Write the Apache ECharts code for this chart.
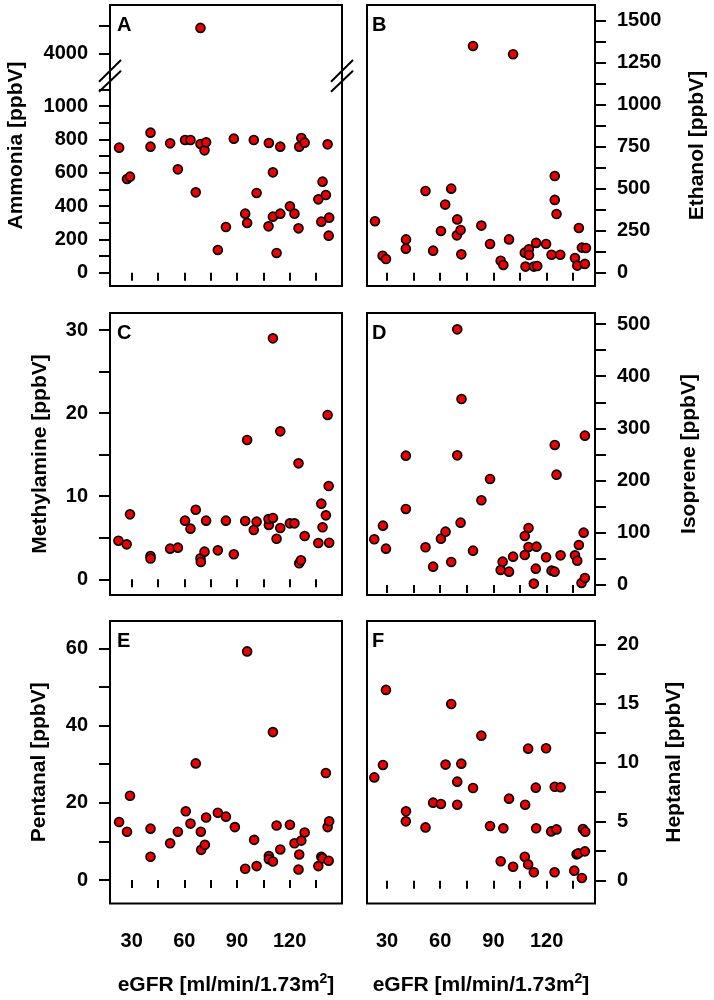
<!DOCTYPE html>
<html><head><meta charset="utf-8">
<script src="https://cdn.jsdelivr.net/npm/echarts@6/dist/echarts.min.js"></script>
<style>html,body{margin:0;padding:0;background:#fff}#c{width:714px;height:1000px}</style>
</head><body><div id="c"></div><script>
// ---- data: [eGFR, concentration] ----
const ammonia = [[22.8,750],[27.3,562],[29.0,576],[40.7,840],[40.7,756],[51.9,776],[56.3,620],[60.4,796],[63.5,796],[66.5,482],[69.2,4930],[69.2,772],[71.5,734],[72.4,782],[79.1,136],[83.7,274],[88.2,804],[94.7,354],[95.8,298],[99.6,796],[101.2,478],[108.2,778],[108.0,278],[110.5,602],[110.5,336],[112.6,118],[114.7,756],[114.7,354],[120.2,398],[122.8,354],[125.1,266],[125.5,756],[126.7,808],[128.6,780],[136.4,440],[138.1,306],[138.8,546],[140.7,466],[141.7,770],[142.6,330],[142.3,222]];
const ethanol = [[23.2,306],[27.5,101],[29.4,81],[40.6,143],[40.7,198],[51.7,486],[56.0,131],[60.4,248],[62.8,405],[66.2,500],[69.6,317],[69.4,222],[71.5,254],[71.9,109],[78.5,1349],[83.2,280],[88.1,171],[94.1,71],[95.6,46],[98.8,198],[101.1,1300],[107.7,119],[108.1,36],[110.0,139],[110.1,105],[112.8,36],[114.7,40],[114.1,177],[119.7,171],[122.8,107],[124.6,575],[124.6,433],[125.6,349],[127.7,107],[136.0,87],[137.3,42],[138.2,266],[139.9,149],[141.6,52],[142.2,147]];
const methylamine = [[22.4,4.65],[27.1,4.21],[29.0,7.82],[40.7,2.8],[40.7,2.5],[51.9,3.69],[56.3,3.81],[60.4,7.06],[63.5,6.10],[66.5,8.38],[69.2,2.53],[69.4,2.09],[71.5,3.33],[72.4,7.06],[79.1,3.49],[83.7,7.06],[88.2,3.01],[94.7,7.02],[95.8,16.77],[99.6,5.94],[101.2,6.94],[108.2,6.54],[108.0,7.26],[110.5,7.38],[110.5,29.0],[112.6,4.89],[114.7,6.18],[114.7,17.81],[120.2,6.74],[122.8,6.74],[125.1,13.96],[125.5,1.93],[126.5,2.29],[128.6,5.21],[136.4,4.37],[138.1,9.11],[138.8,6.26],[140.7,7.70],[141.7,19.78],[142.6,4.41],[142.3,11.23]];
const isoprene = [[22.8,87.5],[27.7,113.7],[29.4,69.6],[40.6,247.8],[40.6,145.6],[51.7,72.2],[56.0,35.1],[60.4,88.8],[63.0,102.2],[66.2,44.1],[69.6,489.8],[69.6,248.4],[72.0,356.3],[71.5,119.4],[78.5,65.8],[83.2,162.2],[88.1,203.1],[94.1,28.7],[95.2,44.7],[98.8,25.5],[101.1,54.3],[107.7,57.5],[107.7,93.9],[109.8,109.2],[109.8,72.8],[112.8,2.6],[113.9,31.3],[114.3,73.4],[119.7,53.0],[122.8,27.5],[124.5,25.5],[124.6,268.2],[125.6,211.4],[127.9,56.8],[136.0,56.8],[137.3,46.6],[138.2,76.6],[139.7,3.8],[140.9,100.3],[141.6,13.4],[141.6,286.1]];
const pentanal = [[22.8,15.0],[27.3,12.5],[29.0,21.8],[40.7,13.3],[40.7,6.0],[51.9,9.5],[56.3,12.5],[60.8,17.8],[63.5,14.6],[66.5,30.2],[69.4,12.5],[69.6,7.8],[71.7,9.1],[72.4,16.2],[79.1,17.4],[83.7,16.4],[88.8,13.7],[94.7,2.9],[95.8,59.2],[99.8,10.4],[101.2,3.6],[108.2,6.2],[108.2,5.4],[110.5,4.8],[110.5,38.3],[112.6,14.1],[114.7,7.9],[120.2,14.3],[122.8,9.5],[125.1,2.7],[125.5,6.6],[126.7,10.2],[128.6,12.3],[136.4,3.6],[138.1,6.0],[138.8,5.6],[140.7,27.7],[141.7,13.7],[142.6,15.2],[142.3,5.0]];
const heptanal = [[22.8,8.74],[27.7,9.79],[29.4,16.14],[40.6,5.02],[40.7,5.87],[51.7,4.51],[56.0,6.60],[60.4,6.49],[63.0,9.82],[66.2,14.95],[69.6,8.38],[69.6,6.43],[71.9,9.90],[78.5,7.84],[83.2,12.27],[88.1,4.63],[94.1,1.64],[95.6,4.43],[98.8,6.94],[101.1,1.18],[107.7,2.03],[107.9,6.43],[109.6,1.38],[109.6,11.17],[112.8,0.71],[113.9,7.87],[114.1,4.43],[119.7,11.20],[122.6,4.17],[124.5,0.71],[124.6,7.95],[125.6,4.34],[127.9,7.90],[135.6,0.85],[136.9,2.23],[137.9,2.31],[139.9,0.23],[140.5,4.37],[141.6,2.48],[141.8,4.15]];

// ---- tick values ----
const xTicks = [30,45,60,75,90,105,120,135];
const xTickLabels = [30,60,90,120];
const ammoniaTicksLow = [0,100,200,300,400,500,600,700,800,900,1000,1100];
const ammoniaLabelsLow = [0,200,400,600,800,1000];
const ammoniaTicksHigh = [4000,5000];
const ammoniaLabelsHigh = [4000];
const ethanolTicks = [0,125,250,375,500,625,750,875,1000,1125,1250,1375,1500];
const ethanolLabels = [0,250,500,750,1000,1250,1500];
const methylTicks = [0,5,10,15,20,25,30];
const methylLabels = [0,10,20,30];
const isopreneTicks = [0,50,100,150,200,250,300,350,400,450,500];
const isopreneLabels = [0,100,200,300,400,500];
const pentanalTicks = [0,10,20,30,40,50,60];
const pentanalLabels = [0,20,40,60];
const heptanalTicks = [0,2.5,5,7.5,10,12.5,15,17.5,20];
const heptanalLabels = [0,5,10,15,20];

const FONT = 'Liberation Sans';
const cols = [{left:110,width:232,xmin:17.6,xmax:149.9},{left:367,width:228,xmin:18.7,xmax:147.3}];
const rows = [{top:5,height:281},{top:313,height:282},{top:621,height:282.5}];

const panels = [
  {letter:'A',title:'Ammonia [ppbV]',data:ammonia.filter(d=>d[1]<2000),ticks:ammoniaTicksLow,labels:ammoniaLabelsLow,col:0,row:0,ymin:-80,ymax:1606,gap:83},
  {letter:'B',title:'Ethanol [ppbV]',data:ethanol,ticks:ethanolTicks,labels:ethanolLabels,col:1,row:0,ymin:-79.4,ymax:1593,gap:92},
  {letter:'C',title:'Methylamine [ppbV]',data:methylamine,ticks:methylTicks,labels:methylLabels,col:0,row:1,ymin:-1.885,ymax:32.05,gap:59},
  {letter:'D',title:'Isoprene [ppbV]',data:isoprene,ticks:isopreneTicks,labels:isopreneLabels,col:1,row:1,ymin:-19.2,ymax:521.1,gap:84},
  {letter:'E',title:'Pentanal [ppbV]',data:pentanal,ticks:pentanalTicks,labels:pentanalLabels,col:0,row:2,ymin:-6.09,ymax:67.08,gap:60},
  {letter:'F',title:'Heptanal [ppbV]',data:heptanal,ticks:heptanalTicks,labels:heptanalLabels,col:1,row:2,ymin:-1.93,ymax:21.97,gap:69}
];

const txt = {fontFamily:FONT,fontWeight:'bold',fontSize:20,color:'#000'};
const ttl = {fontFamily:FONT,fontWeight:'bold',fontSize:21,color:'#000'};
const fmt = v => String(v);
const grid=[], xAxis=[], yAxis=[], series=[], graphic=[];
const marker = {type:'scatter',symbol:'circle',symbolSize:9,itemStyle:{color:'#ee0000',borderColor:'#000',borderWidth:1.6,opacity:1},silent:true};

panels.forEach((p,i)=>{
  const c=cols[p.col], r=rows[p.row];
  grid.push({left:c.left,top:r.top,width:c.width,height:r.height,show:true,borderColor:'#000',borderWidth:2,backgroundColor:'transparent'});
  const bottom = p.row===2;
  xAxis.push({gridIndex:i,type:'value',min:c.xmin,max:c.xmax,offset:3,
    axisLine:{show:false},splitLine:{show:false},
    axisTick:{show:true,length:8,lineStyle:{color:'#000',width:2},customValues:xTicks},
    axisLabel:{show:bottom,customValues:xTickLabels,margin:25,formatter:fmt,...txt},
    name:bottom?'eGFR [ml/min/1.73m{sup|2}]':'',nameLocation:'middle',nameGap:66,
    nameTextStyle:{...ttl,lineHeight:26,rich:{sup:{fontFamily:FONT,fontWeight:'bold',fontSize:14,color:'#000',verticalAlign:'top',lineHeight:12}}}});
  yAxis.push({gridIndex:i,type:'value',position:p.col===0?'left':'right',min:p.ymin,max:p.ymax,
    axisLine:{show:false},splitLine:{show:false},
    axisTick:{show:true,length:11,lineStyle:{color:'#000',width:2},customValues:p.ticks},
    axisLabel:{customValues:p.labels,margin:22,formatter:fmt,...txt},
    name:p.title,nameLocation:'middle',nameRotate:90,nameGap:p.gap,nameTextStyle:{...ttl}});
  series.push({...marker,xAxisIndex:i,yAxisIndex:i,data:p.data});
  graphic.push({type:'text',x:(p.col===0?117:372),y:r.top+20,style:{text:p.letter,font:'bold 20px '+FONT,fill:'#000',textVerticalAlign:'middle'}});
});

// upper (broken) segment of panel A
const gi = grid.length;
grid.push({left:110,top:5,width:232,height:73,show:false});
xAxis.push({gridIndex:gi,type:'value',min:cols[0].xmin,max:cols[0].xmax,show:false});
yAxis.push({gridIndex:gi,type:'value',position:'left',min:3095,max:5769,
  axisLine:{show:false},splitLine:{show:false},
  axisTick:{show:true,length:11,lineStyle:{color:'#000',width:2},customValues:ammoniaTicksHigh},
  axisLabel:{customValues:ammoniaLabelsHigh,margin:22,formatter:fmt,...txt}});
series.push({...marker,xAxisIndex:gi,yAxisIndex:gi,data:ammonia.filter(d=>d[1]>=2000)});

// axis break marks
[110,342].forEach(x=>{
  graphic.push({type:'line',shape:{x1:x-11,y1:81.7,x2:x+11,y2:60},style:{stroke:'#000',lineWidth:2},z:100});
  graphic.push({type:'line',shape:{x1:x-11,y1:91.7,x2:x+11,y2:70.7},style:{stroke:'#000',lineWidth:2},z:100});
});

const chart = echarts.init(document.getElementById('c'),null,{renderer:'canvas'});
chart.setOption({animation:false,backgroundColor:'#fff',grid,xAxis,yAxis,series,graphic});
</script></body></html>
